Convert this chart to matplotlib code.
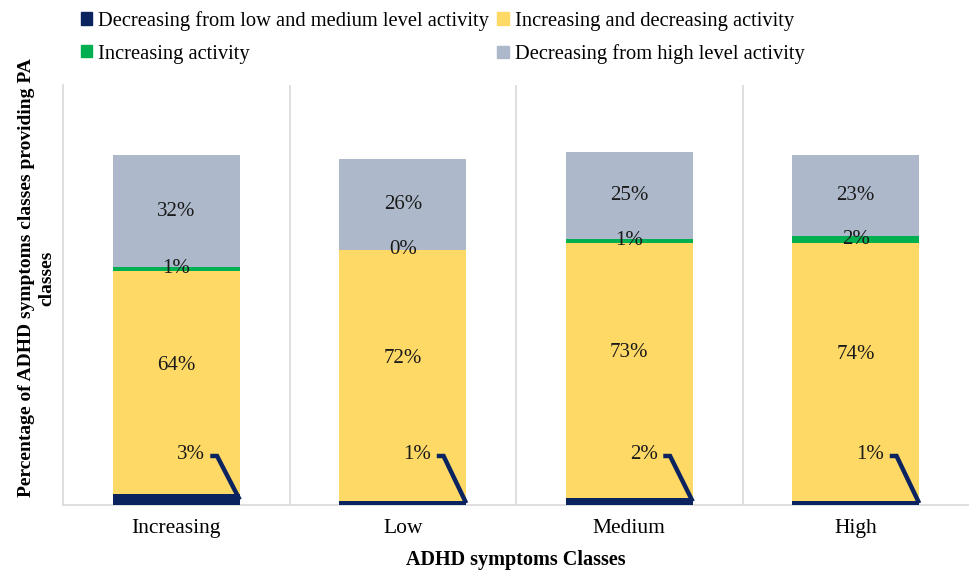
import matplotlib
matplotlib.use("Agg")
import matplotlib.pyplot as plt
from matplotlib.patches import Patch
import numpy as np

plt.rcParams['font.family'] = ['Liberation Serif', 'DejaVu Serif']

categories = ["Increasing", "Low", "Medium", "High"]
series_names = [
    "Decreasing from low and medium level activity",
    "Increasing and decreasing activity",
    "Increasing activity",
    "Decreasing from high level activity",
]
dec_low_medium = [3, 1, 2, 1]
inc_dec = [64, 72, 73, 74]
increasing = [1, 0, 1, 2]
dec_high = [32, 26, 25, 23]

colors = ["#0B2460", "#FFD966", "#00B050", "#ADB9CA"]
series = [dec_low_medium, inc_dec, increasing, dec_high]

fig = plt.figure(figsize=(9.7, 5.71), dpi=100)
ax = fig.add_axes([0.065, 0.1156, 0.934, 0.7355])

x = np.arange(len(categories))
width = 0.56
bottom = np.zeros(len(categories))
for vals, col in zip(series, colors):
    ax.bar(x, vals, width, bottom=bottom, color=col, edgecolor='none', zorder=3)
    bottom = bottom + np.array(vals)

lab_fs = 15
txt_kw = dict(fontsize=lab_fs, color='#1a1a1a', ha='center', va='center', zorder=5)
for i in range(len(categories)):
    d = dec_low_medium[i]
    y_ = inc_dec[i]
    g = increasing[i]
    h = dec_high[i]
    # thin bottom segment: label with a leader line to the bar's corner
    ax.text(x[i] + 0.125, 14.3, f"{d}%", fontsize=lab_fs, color='#1a1a1a',
            ha='right', va='center', zorder=5)
    ax.plot([x[i] + 0.15, x[i] + 0.18, x[i] + width / 2],
            [14, 14, d / 2], color=colors[0], lw=3.2,
            solid_capstyle='butt', solid_joinstyle='miter', zorder=4)
    ax.text(x[i], d + y_ / 2 + 5, f"{y_}%", **txt_kw)
    ax.text(x[i], d + y_ + g / 2, f"{g}%", **txt_kw)
    ax.text(x[i], d + y_ + g + h / 2, f"{h}%", **txt_kw)

ax.set_xlim(-0.5, 3.5)
ax.set_ylim(0, 120)
ax.set_yticks([])
ax.set_xticks(x)
ax.set_xticklabels(categories, fontsize=15.5)
ax.tick_params(axis='x', length=0, pad=10)
ax.set_xticks([0.5, 1.5, 2.5], minor=True)
ax.tick_params(axis='x', which='minor', length=0)
ax.grid(axis='x', which='minor', color='#D9D9D9', lw=1.2, zorder=0)

for side in ['top', 'right']:
    ax.spines[side].set_visible(False)
for side in ['left', 'bottom']:
    ax.spines[side].set_color('#D9D9D9')
    ax.spines[side].set_linewidth(1.2)

ax.set_xlabel("ADHD symptoms Classes", fontsize=14.5, fontweight='bold', labelpad=9)
fig.text(36.5 / 970, 1 - 278 / 571,
         "Percentage of ADHD symptoms classes providing PA\nclasses",
         fontsize=14, fontweight='bold', rotation=90, ha='center', va='center',
         multialignment='center', linespacing=1.25)

handles = [Patch(color=colors[0]), Patch(color=colors[2]),
           Patch(color=colors[1]), Patch(color=colors[3])]
labels = [series_names[0], series_names[2], series_names[1], series_names[3]]
fig.legend(handles, labels, ncol=2, loc='upper left',
           bbox_to_anchor=(0.075, 0.9956), frameon=False, fontsize=14.75,
           handlelength=0.55, handleheight=0.55, handletextpad=0.3,
           columnspacing=0.4, labelspacing=0.68, borderaxespad=0)

fig.savefig("out.png", dpi=100)
